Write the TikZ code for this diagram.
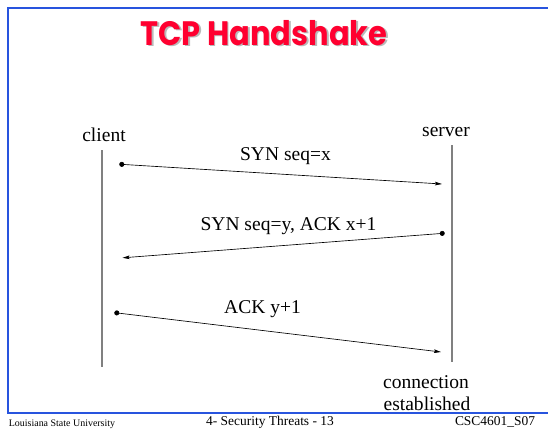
\documentclass[tikz,border=0pt]{standalone}
\usepackage{fontspec}
\setmainfont{Liberation Serif}
\newfontfamily\titlefont{Poppins}[FakeStretch=0.9]
\usetikzlibrary{arrows.meta,positioning}
\definecolor{frameblue}{RGB}{40,84,222}
\definecolor{titlered}{RGB}{255,0,48}

\begin{document}
\begin{tikzpicture} [x = 1bp, y = -1bp,
  lbl/.style = {font = \fontsize{19.6}{22}\selectfont, inner sep = 0pt, anchor = base},
  foot/.style = {font = \fontsize{13.5}{15}\selectfont, inner sep = 0pt, anchor = base},
  life/.style = {draw = gray, line width = 1.6bp},
  msg/.style = {{Circle[length = 5bp]}-{Stealth[length = 7bp, width = 3.6bp, inset = 1.2bp]}, line width = 0.65bp},
  heading/.style = {font = \titlefont\bfseries\fontsize{34}{38}\selectfont, inner sep = 0pt, anchor = base}]
\useasboundingbox (0,0) rectangle (548,429);
\clip (0,0) rectangle (548,429);
\draw [frameblue, line width = 2bp] (8,8) rectangle (600,413);

% title with its shadow
\node [heading, text = gray!55] at (265.5,46.5) {TCP Handshake};
\node (title) [heading, text = titlered] at (264,45) {TCP Handshake};

% the two hosts
\node (client) [lbl] at (104,141) {client};
\node (server) [lbl] at (446,136.5) {server};
\coordinate (c top) at (102,150);
\coordinate (c bot) at (102,367);
\coordinate (s top) at (452,145);
\coordinate (s bot) at (452,362);
\draw [life] (c top) -- (c bot);
\draw [life] (s top) -- (s bot);

% message ends
\coordinate (m1a) at (119.3,164.2);
\coordinate (m1b) at (442,184);
\coordinate (m2a) at (444.7,233.2);
\coordinate (m2b) at (122.5,257.8);
\coordinate (m3a) at (114.3,312.6);
\coordinate (m3b) at (441,352);
\path [msg]
    (m1a) edge (m1b)
    (m2a) edge (m2b)
    (m3a) edge (m3b);

\node (syn) [lbl] at (285.5,160) {SYN seq=x};
\node (synack) [lbl] at (288.5,230) {SYN seq=y, ACK x+1};
\node (ack) [lbl] at (262.5,313) {ACK y+1};

\node (conn) [lbl] at (426,388) {connection};
\node (est) [lbl] at (427,410) {established};

% footer
\node (uni) [foot, font = \fontsize{10}{12}\selectfont] at (62,426) {Louisiana State University};
\node (topic) [foot] at (270,425.5) {4- Security Threats - 13};
\node (course) [foot] at (495,425.5) {CSC4601\_S07};
\end{tikzpicture}
\end{document}
